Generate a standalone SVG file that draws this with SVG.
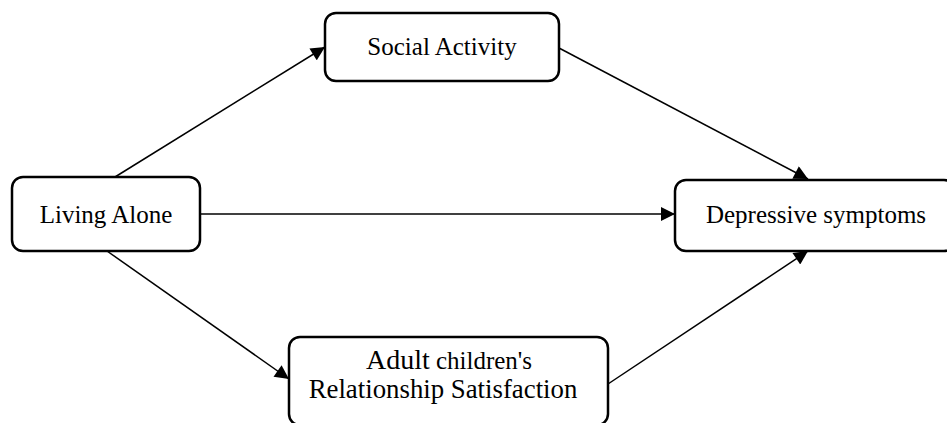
<svg xmlns="http://www.w3.org/2000/svg" width="947" height="423" viewBox="0 0 947 423">
<defs>
<style>
.box{fill:#fff;stroke:#000;stroke-width:2.5}
.lbl{font-family:"Liberation Serif","Times New Roman",serif;font-size:25px;fill:#000;text-anchor:middle}
.ln{stroke:#000;stroke-width:1.5;fill:none}
</style>
<marker id="ah" viewBox="0 0 10 10" refX="10" refY="5" markerWidth="16" markerHeight="14" markerUnits="userSpaceOnUse" orient="auto">
<path d="M0,0 L10,5 L0,10 Z" fill="#000"/>
</marker>
</defs>
<rect width="947" height="423" fill="#fff"/>
<g id="connectors">
<line class="ln" x1="115" y1="177" x2="325" y2="47" marker-end="url(#ah)"/>
<line class="ln" x1="200" y1="214" x2="675" y2="214" marker-end="url(#ah)"/>
<line class="ln" x1="107" y1="251" x2="289" y2="379" marker-end="url(#ah)"/>
<line class="ln" x1="559" y1="48" x2="808" y2="179" marker-end="url(#ah)"/>
<line class="ln" x1="608" y1="384" x2="808" y2="251" marker-end="url(#ah)"/>
</g>
<g id="living-alone">
<rect class="box" x="12" y="177" width="188" height="74" rx="11"/>
<text class="lbl" x="106" y="223">Living Alone</text>
</g>
<g id="social-activity">
<rect class="box" x="325" y="13" width="234" height="68" rx="11"/>
<text class="lbl" x="442" y="55">Social Activity</text>
</g>
<g id="depressive-symptoms">
<rect class="box" x="675" y="180" width="280" height="71" rx="11"/>
<text class="lbl" x="816" y="223">Depressive symptoms</text>
</g>
<g id="adult-children">
<rect class="box" x="289" y="337" width="319" height="88" rx="11"/>
<text class="lbl" x="449" y="369"><tspan style="font-size:28px">Adult</tspan> children's</text>
<text class="lbl" x="443" y="398" style="font-size:26.8px">Relationship Satisfaction</text>
</g>
</svg>
